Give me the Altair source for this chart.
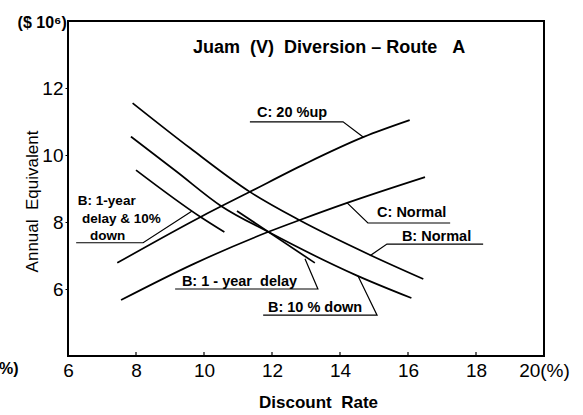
import altair as alt
import pandas as pd

# ---- curve data (discount rate %, annual equivalent $10^6) ----
b_normal_x = [7.9, 9.6, 11.35, 12.8, 14.9, 16.45]
b_normal_y = [11.55, 10.2, 8.9, 8.06, 7.01, 6.3]

b_10down_x = [7.85, 9.2, 10.5, 11.9, 14.5, 16.1]
b_10down_y = [10.55, 9.5, 8.48, 7.7, 6.4, 5.73]

b_delay10_x = [8.0, 9.9, 10.6]
b_delay10_y = [9.55, 8.15, 7.7]

b_delay_x = [10.97, 13.26]
b_delay_y = [8.33, 6.78]

c_20up_x = [7.45, 9.9, 11.35, 13.0, 14.7, 16.05]
c_20up_y = [6.78, 8.15, 8.9, 9.75, 10.54, 11.04]

c_normal_x = [7.56, 9.7, 11.88, 12.82, 14.21, 16.5]
c_normal_y = [5.67, 6.75, 7.7, 8.06, 8.57, 9.34]

# ---- label leader polylines ----
lead_c20_x = [11.35, 14.09, 14.68]
lead_c20_y = [10.99, 10.99, 10.54]
lead_cn_x = [14.21, 14.82, 17.24]
lead_cn_y = [8.57, 7.97, 7.97]
lead_bn_x = [14.88, 15.38, 18.21]
lead_bn_y = [6.99, 7.34, 7.34]
lead_bd_x = [12.97, 13.35, 9.15]
lead_bd_y = [6.90, 6.0, 6.0]
lead_b10_x = [14.53, 15.09, 11.74]
lead_b10_y = [6.39, 5.22, 5.22]
lead_bd10_x = [9.65, 8.21, 6.24]
lead_bd10_y = [8.33, 7.38, 7.38]

# ---- label texts ----
NB = "\u00a0"
label_text = ["C: 20 %up", "C: Normal", "B: Normal",
              "B:" + NB + "1" + NB + "-" + NB + "year" + NB + NB + "delay",
              "B: 10 %" + NB + "down"]
label_x = [11.56, 15.09, 15.82, 9.35, 11.88]
label_y = [11.25, 8.27, 7.55, 6.21, 5.43]

block_text = ["B: 1-year", "delay & 10%", "down"]
block_x = [6.29, 6.41, 6.65]
block_y = [8.51, 7.97, 7.46]

title_text = "Juam" + NB * 2 + "(V)" + NB * 2 + "Diversion" + NB + "\u2013" + NB + "Route" + NB * 3 + "A"
x_ticks = [6, 8, 10, 12, 14, 16, 18, 20]
y_ticks = [6, 8, 10, 12]
inner_ticks = [8, 10, 12, 14, 16, 18]

FONT = "Liberation Sans"

def build(names, xs_list, ys_list):
    rows = []
    for n, xs, ys in zip(names, xs_list, ys_list):
        for i, (x, y) in enumerate(zip(xs, ys)):
            rows.append({"name": n, "o": i, "x": x, "y": y})
    return pd.DataFrame(rows)

curves = build(
    ["B Normal", "B 10% down", "B delay 10% down", "B delay", "C 20% up", "C Normal"],
    [b_normal_x, b_10down_x, b_delay10_x, b_delay_x, c_20up_x, c_normal_x],
    [b_normal_y, b_10down_y, b_delay10_y, b_delay_y, c_20up_y, c_normal_y],
)
leaders = build(
    ["c20", "cn", "bn", "bd", "b10", "bd10"],
    [lead_c20_x, lead_cn_x, lead_bn_x, lead_bd_x, lead_b10_x, lead_bd10_x],
    [lead_c20_y, lead_cn_y, lead_bn_y, lead_bd_y, lead_b10_y, lead_bd10_y],
)
labels = pd.DataFrame({"x": label_x, "y": label_y, "t": label_text})
block = pd.DataFrame({"x": block_x, "y": block_y, "t": block_text})

xs = alt.Scale(domain=[6, 20], nice=False, zero=False)
ys = alt.Scale(domain=[4, 14], nice=False, zero=False)

x_axis = alt.Axis(values=x_ticks, title="Discount" + NB * 2 + "Rate", grid=False, domain=False,
                  tickSize=0, labelPadding=5, labelFontSize=19, labelFont=FONT,
                  labelColor="black", labelFlush=False, labelOverlap=False,
                  labelExpr="datum.value == 20 ? '20(%)' : datum.label",
                  titleFont=FONT, titleFontSize=17, titleFontWeight="bold",
                  titleColor="black", titleX=250, titleY=46, titleBaseline="middle")
y_axis = alt.Axis(values=y_ticks, title="Annual" + NB + NB + "Equivalent", grid=False, domain=False,
                  tickSize=3, tickColor="black", labelPadding=2, labelFontSize=19,
                  labelFont=FONT, labelColor="black", labelFlush=False,
                  titleFont=FONT, titleFontSize=17, titleFontWeight="normal",
                  titleColor="black", titleX=-36, titleY=180, titleAngle=-90,
                  titleBaseline="middle", titleAlign="center")

base_curves = alt.Chart(curves).mark_line(
    color="black", strokeWidth=1.7, interpolate="monotone"
).encode(
    x=alt.X("x:Q", scale=xs, axis=x_axis),
    y=alt.Y("y:Q", scale=ys, axis=y_axis),
    detail="name:N",
    order="o:Q",
)

lead = alt.Chart(leaders).mark_line(color="black", strokeWidth=1.2).encode(
    x=alt.X("x:Q", scale=xs), y=alt.Y("y:Q", scale=ys), detail="name:N", order="o:Q"
)

txt = alt.Chart(labels).mark_text(
    align="left", baseline="middle", fontSize=14.5, fontWeight="bold", font=FONT, color="black"
).encode(x=alt.X("x:Q", scale=xs), y=alt.Y("y:Q", scale=ys), text="t:N")

blk = alt.Chart(block).mark_text(
    align="left", baseline="alphabetic", fontSize=13.5, fontWeight="bold", font=FONT, color="black"
).encode(x=alt.X("x:Q", scale=xs), y=alt.Y("y:Q", scale=ys), text="t:N")

title = alt.Chart(pd.DataFrame({"x": [13.68], "y": [13.19], "t": [title_text]})).mark_text(
    align="center", baseline="middle", fontSize=18, fontWeight="bold", font=FONT, color="black"
).encode(x=alt.X("x:Q", scale=xs), y=alt.Y("y:Q", scale=ys), text="t:N")

unit = alt.Chart(pd.DataFrame({"x": [5.24, 4.26], "y": [13.94, 3.6], "t": ["($" + NB + "10\u2076)", "%)"]})).mark_text(
    align="center", baseline="middle", fontSize=16, fontWeight="bold", font=FONT, color="black"
).encode(x=alt.X("x:Q", scale=xs), y=alt.Y("y:Q", scale=ys), text="t:N")

ticks = alt.Chart(pd.DataFrame({"x": inner_ticks, "y0": [4] * 6, "y1": [4.12] * 6})).mark_rule(
    color="black", strokeWidth=1.2
).encode(x=alt.X("x:Q", scale=xs), y=alt.Y("y0:Q", scale=ys), y2="y1:Q")

chart = alt.layer(base_curves, lead, txt, blk, title, unit, ticks).properties(
    width=476, height=335,
    autosize=alt.AutoSizeParams(type="none"),
    padding={"left": 68, "top": 21, "right": 39, "bottom": 59},
    background="white",
).configure_view(stroke="black", strokeWidth=2)

chart.save("out.html", embed_options={"renderer": "svg", "actions": False})
